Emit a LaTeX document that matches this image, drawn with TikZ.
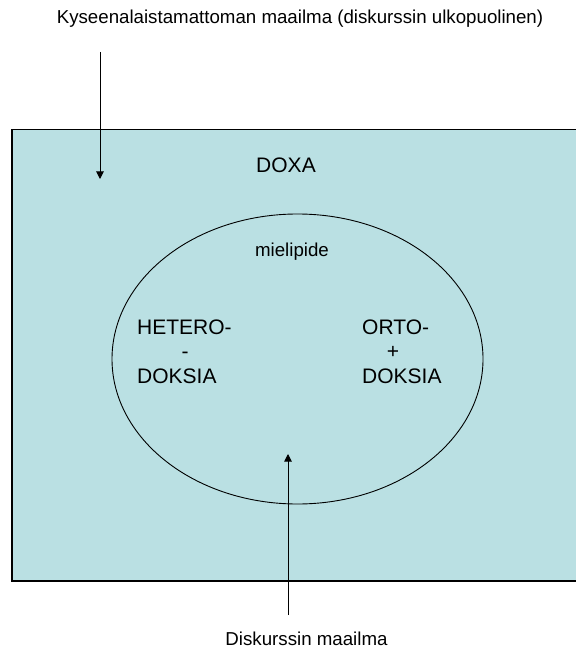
\documentclass[tikz,border=0pt]{standalone}
\usepackage{fontspec}
\setmainfont{Liberation Sans}
\usetikzlibrary{arrows.meta,shapes.geometric}
\definecolor{doxafill}{RGB}{186,224,227}
\tikzset{
  lbl/.style={inner sep=0pt, font=\fontsize{18.7}{22}\selectfont},
  caps/.style={inner sep=0pt, font=\fontsize{21}{24}\selectfont},
  pointer/.style={line width=1pt, -{Triangle[length=7.5pt,width=7.5pt]}},
}
\begin{document}
\begin{tikzpicture}[x=1pt,y=-1pt]
  \useasboundingbox (0,0) rectangle (575,652);
  % the world of discourse
  \draw[line width=1.6pt, fill=doxafill] (12,129.5) rectangle (585,581);
  \node[draw, ellipse, line width=0.9pt, minimum width=371pt, minimum height=290pt, inner sep=0pt] (disc) at (297.5,359) {};
  % labels
  \node[lbl, anchor=base] (outside) at (300,24) {Kyseenalaistamattoman maailma (diskurssin ulkopuolinen)};
  \node[caps, anchor=base] (doxa) at (286,172.5) {DOXA};
  \node[lbl, anchor=base] (opinion) at (292,256) {mielipide};
  \node[caps, anchor=base west] (hetA) at (137,334) {HETERO-};
  \node[caps, anchor=base] (hetB) at (185,358.5) {-};
  \node[caps, anchor=base west] (hetC) at (137,383) {DOKSIA};
  \node[caps, anchor=base west] (ortA) at (362,334) {ORTO-};
  \node[caps, anchor=base] (ortB) at (393,358.5) {+};
  \node[caps, anchor=base west] (ortC) at (362,383) {DOKSIA};
  \node[lbl, anchor=base] (world) at (306.5,645) {Diskurssin maailma};
  % pointers
  \coordinate (topStart) at (100,52);
  \coordinate (topEnd) at (100,179);
  \coordinate (botStart) at (288,615);
  \coordinate (botEnd) at (288,454);
  \draw[pointer] (topStart) -- (topEnd);
  \draw[pointer] (botStart) -- (botEnd);
\end{tikzpicture}
\end{document}
